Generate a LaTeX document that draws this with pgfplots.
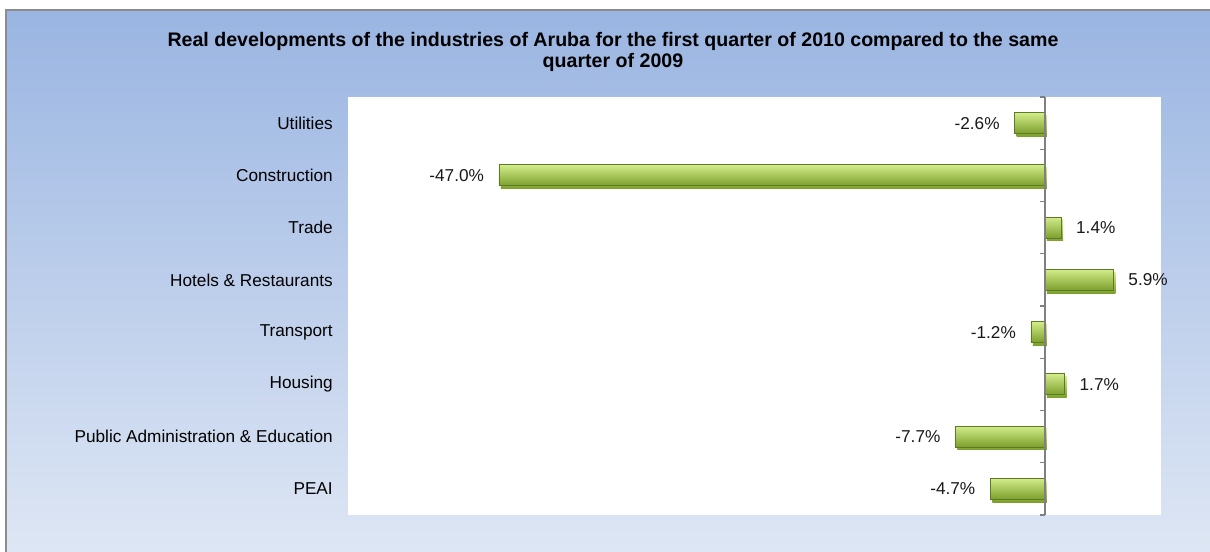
\documentclass[border=0pt]{standalone}
\usepackage{fontspec}
\setmainfont{Liberation Sans}
\usepackage{pgfplots}
\pgfplotsset{compat=1.18}
\definecolor{bgtop}{HTML}{9AB5E2}
\definecolor{bgbot}{HTML}{DFE7F4}
\definecolor{bartop}{HTML}{D2EC8A}
\definecolor{barmid}{HTML}{A6CE40}
\definecolor{barbot}{HTML}{7C9F2C}
\definecolor{baredge}{HTML}{5E7A26}

\pgfplotsset{
  gbar/.style={draw=baredge, line width=0.6pt, bar shift=0pt,
    top color=bartop, middle color=barmid, bottom color=barbot,
    preaction={fill=black!13, draw=none, transform canvas={xshift=1.5pt,yshift=-2pt}}},
  neg/.style={gbar, nodes near coords style={anchor=east}},
  pos/.style={gbar, nodes near coords style={anchor=west}},
}

\begin{document}
\begin{tikzpicture}
\useasboundingbox (0,0) rectangle (907.5pt,414pt);
% chart area background
\shade[top color=bgtop, bottom color=bgbot] (4.5pt,-5pt) rectangle (915pt,406.5pt);
\draw[black!45, line width=1.5pt] (4.5pt,-5pt) -- (4.5pt,406.5pt) -- (915pt,406.5pt);
\node[font=\bfseries\fontsize{14.7}{16}\selectfont, align=center, anchor=base]
  at (459.75pt,363pt)
  {Real developments of the industries of Aruba for the first quarter of 2010 compared to the same\\quarter of 2009};

\begin{axis}[
  at={(261pt,27.75pt)}, anchor=south west,
  width=609.75pt, height=313.5pt, scale only axis,
  xbar, bar width=15.75pt,
  xmin=-60, xmax=10, ymin=0.5, ymax=8.5, y dir=reverse,
  axis background/.style={fill=white},
  axis line style={draw=none},
  xtick=\empty,
  ytick={1,...,8},
  yticklabels={Utilities,Construction,Trade,Hotels \& Restaurants,Transport,Housing,Public Administration \& Education,PEAI},
  major tick length=0pt,
  y tick label style={font=\fontsize{12.9}{15}\selectfont, inner sep=0pt, xshift=-11.25pt},
  nodes near coords, point meta=explicit symbolic,
  every node near coord/.append style={font=\fontsize{12.9}{15}\selectfont, inner xsep=11pt, inner ysep=0pt, text=black!90},
  clip=false,
]
\addplot[neg] coordinates {(-2.6,1) [-2.6\%]};
\addplot[neg] coordinates {(-47.0,2) [-47.0\%]};
\addplot[pos] coordinates {(1.4,3) [1.4\%]};
\addplot[pos] coordinates {(5.9,4) [5.9\%]};
\addplot[neg] coordinates {(-1.2,5) [-1.2\%]};
\addplot[pos] coordinates {(1.7,6) [1.7\%]};
\addplot[neg] coordinates {(-7.7,7) [-7.7\%]};
\addplot[neg] coordinates {(-4.7,8) [-4.7\%]};
\draw[black!50, line width=1.2pt] (axis cs:0,0.5) -- (axis cs:0,8.5);
\pgfplotsinvokeforeach{0.5,1.5,...,8.5}{
  \draw[black!50, line width=0.9pt] (axis cs:0,#1) -- ([xshift=-3.75pt]axis cs:0,#1);
}
\end{axis}
\end{tikzpicture}
\end{document}
